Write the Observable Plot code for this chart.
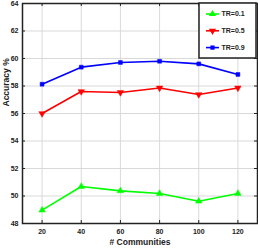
<!DOCTYPE html><html><head><meta charset="utf-8">
<script src="https://cdn.jsdelivr.net/npm/d3@7"></script>
<script src="https://cdn.jsdelivr.net/npm/@observablehq/plot@0.6"></script>
<style>body{margin:0;background:#fff;overflow:hidden}</style></head><body><div id="chart"></div>
<script>
const communities = [20, 40, 60, 80, 100, 120];
const tr01 = [48.97, 50.69, 50.37, 50.18, 49.62, 50.18];
const tr05 = [56.0, 57.6, 57.53, 57.86, 57.38, 57.86];
const tr09 = [58.13, 59.37, 59.71, 59.8, 59.61, 58.84];
const seriesNames = ["TR=0.1", "TR=0.5", "TR=0.9"];
const seriesColors = ["#00ff00", "#ff0000", "#0000ff"];
const xTicks = [20, 40, 60, 80, 100, 120];
const yTicks = [48, 50, 52, 54, 56, 58, 60, 62, 64];
const xLabel = "# Communities";
const yLabel = "Accuracy %";

const seriesValues = [tr01, tr05, tr09];
const rows = seriesNames.flatMap((s, i) => communities.map((c, j) => ({series: s, x: c, y: seriesValues[i][j]})));

const W = 258, H = 249, ML = 22, MR = 1, MT = 3, MB = 26;
const fw = W - ML - MR, fh = H - MT - MB;
const font = "Liberation Sans, Arial, sans-serif";

const plot = Plot.plot({
  width: W, height: H,
  marginLeft: ML, marginRight: MR, marginTop: MT, marginBottom: MB,
  style: {fontFamily: font, fontWeight: "bold", fontSize: "7px", color: "#222", background: "#fff"},
  x: {domain: [10, 130], ticks: xTicks},
  y: {domain: [48, 64], ticks: yTicks},
  color: {domain: seriesNames, range: seriesColors},
  marks: [
    Plot.gridX(xTicks, {stroke: "#d9d9d9", strokeOpacity: 1, strokeWidth: 1}),
    Plot.gridY(yTicks, {stroke: "#d9d9d9", strokeOpacity: 1, strokeWidth: 1}),
    Plot.axisX(xTicks, {tickSize: 0, tickPadding: 6, label: null, fontWeight: "bold"}),
    Plot.axisY(yTicks, {tickSize: 0, tickPadding: 4, label: null, fontWeight: "bold"}),
    Plot.tickX(xTicks, {x: d => d, insetTop: fh - 3, stroke: "#222", strokeWidth: 1}),
    Plot.tickX(xTicks, {x: d => d, insetBottom: fh - 3, stroke: "#222", strokeWidth: 1}),
    Plot.tickY(yTicks, {y: d => d, insetRight: fw - 3, stroke: "#222", strokeWidth: 1}),
    Plot.tickY(yTicks, {y: d => d, insetLeft: fw - 3, stroke: "#222", strokeWidth: 1}),
    Plot.line(rows, {x: "x", y: "y", z: "series", stroke: "series", strokeWidth: 1.6}),
    Plot.dot(rows.filter(d => d.series === "TR=0.1"), {x: "x", y: "y", symbol: "triangle", r: 2.4, fill: "series", stroke: "series", strokeWidth: 0.5}),
    Plot.dot(rows.filter(d => d.series === "TR=0.5"), {x: "x", y: "y", symbol: "triangle", rotate: 180, r: 2.4, fill: "series", stroke: "series", strokeWidth: 0.5}),
    Plot.dot(rows.filter(d => d.series === "TR=0.9"), {x: "x", y: "y", symbol: "square", r: 2.2, fill: "series", stroke: "series", strokeWidth: 0.5}),
    Plot.frame({stroke: "#222", strokeWidth: 1.5}),
    Plot.text([xLabel], {frameAnchor: "bottom", dy: 21, fontSize: 8.5, fontWeight: "bold", fill: "#222"}),
    Plot.text([yLabel], {frameAnchor: "left", dx: -16, dy: -7, rotate: -90, fontSize: 8.5, fontWeight: "bold", fill: "#222"})
  ]
});

// legend inside the top-right corner
const svg = d3.select(plot);
const lx = 199, ly = 3, lw = 57, lh = 55;
const g = svg.append("g");
g.append("rect").attr("x", lx).attr("y", ly).attr("width", lw).attr("height", lh)
  .attr("fill", "#fff").attr("stroke", "#222").attr("stroke-width", 1.5);
const symbolTypes = [d3.symbolTriangle, d3.symbolTriangle, d3.symbolSquare];
seriesNames.forEach((name, i) => {
  const yy = 14 + i * 16.8;
  g.append("line").attr("x1", 206).attr("x2", 219).attr("y1", yy).attr("y2", yy)
    .attr("stroke", seriesColors[i]).attr("stroke-width", 1.6);
  g.append("path").attr("d", d3.symbol(symbolTypes[i], i === 2 ? 18 : 22)())
    .attr("transform", `translate(212.5,${yy})` + (i === 1 ? " rotate(180)" : ""))
    .attr("fill", seriesColors[i]);
  g.append("text").attr("x", 221.5).attr("y", yy).attr("dy", "0.35em")
    .attr("text-anchor", "start")
    .attr("font-size", 7).attr("font-weight", "bold").attr("font-family", font)
    .attr("fill", "#222").text(name);
});

document.getElementById("chart").append(plot);
</script></body></html>
